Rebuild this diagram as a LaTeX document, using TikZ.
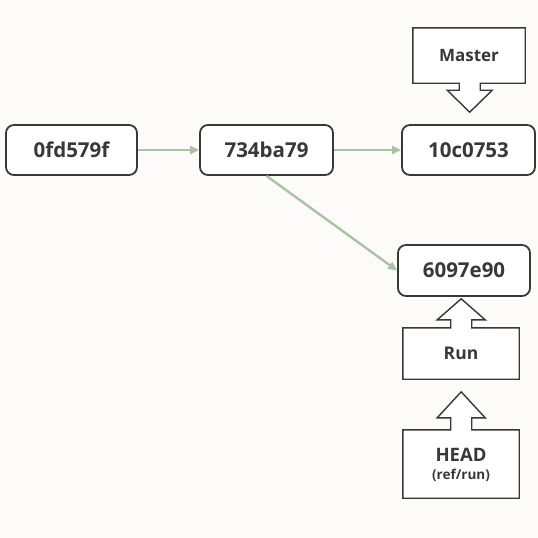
\documentclass[tikz,border=0pt]{standalone}
\usepackage{fontspec}
\setmainfont{Open Sans}
\usetikzlibrary{arrows.meta}
\definecolor{bg}{HTML}{FCFBFA}
\definecolor{ink}{HTML}{383838}
\definecolor{edge}{HTML}{A8C4A2}
\tikzset{
  commit/.style={draw=ink, line width=1.8pt, rounded corners=8pt, fill=white,
    minimum width=#1, minimum height=50pt, inner sep=0pt, text=ink,
    font=\fontsize{20.5}{24}\selectfont\bfseries},
  label/.style={minimum width=#1, inner sep=0pt, text=ink, align=center},
  callout/.style={draw=ink, line width=1.4pt, fill=white, line join=miter},
  ctext/.style={text=ink, inner sep=0pt, font=\bfseries},
  link/.style={draw=edge, line width=2.4pt, -{Triangle[length=9pt,width=8pt]}},
}
\begin{document}
\begin{tikzpicture}[x=1pt,y=-1pt]
\fill[bg] (0,0) rectangle (538,538);
\useasboundingbox (0,0) rectangle (538,538);

\node[commit=131pt] (c1) at (71.5,150) {0fd579f};
\node[commit=133pt] (c2) at (266.5,150) {734ba79};
\node[commit=133pt] (c3) at (468.5,150) {10c0753};
\node[commit=132pt, minimum height=51pt] (c4) at (464,270.5) {6097e90};

% Master callout (arrow down)
\node[label=112pt, minimum height=55pt] (master) at (469,55.5) {};
\draw[callout] (master.north west) -- (master.north east) -- (master.south east)
  -- ++(-45,0) -- ++(0,7) -- ++(12,0) -- ++(-22.5,22) -- ++(-22.5,-22) -- ++(12,0)
  -- ++(0,-7) -- (master.south west) -- cycle;
\node[ctext, font=\fontsize{17}{20}\selectfont\bfseries] (mastertext) at (master) {Master};

% Run callout (arrow up)
\node[label=116pt, minimum height=51pt] (run) at (461,353.5) {};
\draw[callout] (run.south west) -- (run.south east) -- (run.north east)
  -- ++(-47.5,0) -- ++(0,-8) -- ++(13.5,0) -- ++(-24,-21) -- ++(-24,21) -- ++(13.5,0)
  -- ++(0,8) -- (run.north west) -- cycle;
\node[ctext, font=\fontsize{17.5}{20}\selectfont\bfseries] (runtext) at (run) {Run};

% HEAD callout (arrow up)
\node[label=116pt, minimum height=68pt] (head) at (461,464) {};
\draw[callout] (head.south west) -- (head.south east) -- (head.north east)
  -- ++(-47.5,0) -- ++(0,-12) -- ++(13.5,0) -- ++(-24,-26) -- ++(-24,26) -- ++(13.5,0)
  -- ++(0,12) -- (head.north west) -- cycle;
\node[ctext, font=\fontsize{18.5}{21}\selectfont\bfseries] (headtext) at (461,455) {HEAD};
\node[ctext, font=\fontsize{13.5}{16}\selectfont\bfseries] (headsub) at (461,475) {(ref/run)};

% edges
\draw[link] (c1.east) -- (c2.west);
\draw[link] (c2.east) -- (c3.west);
\draw[link] (c2.south) -- (c4.west);
\end{tikzpicture}
\end{document}
